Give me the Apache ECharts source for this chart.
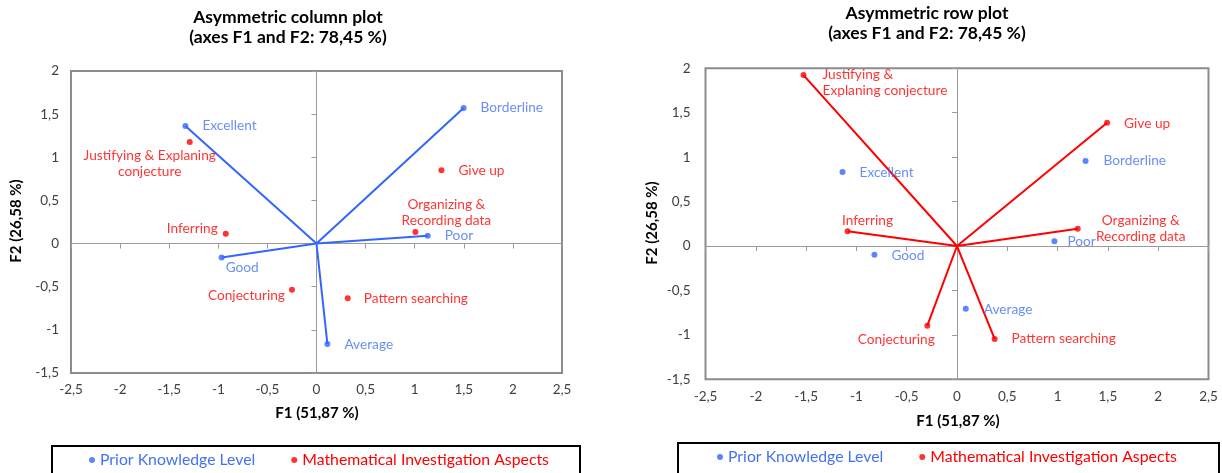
<!DOCTYPE html>
<html><head><meta charset="utf-8">
<script src="https://cdn.jsdelivr.net/npm/echarts@6/dist/echarts.min.js"></script>
<style>html,body{margin:0;padding:0;background:#fff}#c{width:1222px;height:473px}</style>
</head><body><div id="c"></div>
<script>
// ---------- data ----------
const knowledgeNames = ['Excellent', 'Good', 'Average', 'Poor', 'Borderline'];
const aspectNames = ['Justifying & Explaning conjecture', 'Inferring', 'Conjecturing', 'Pattern searching', 'Organizing & Recording data', 'Give up'];

// Asymmetric column plot (F1, F2)
const colKnowledgeF1 = [-1.335, -0.966, 0.111, 1.133, 1.498];
const colKnowledgeF2 = [1.363, -0.161, -1.163, 0.090, 1.572];
const colAspectF1 = [-1.291, -0.924, -0.250, 0.318, 1.007, 1.272];
const colAspectF2 = [1.178, 0.113, -0.535, -0.635, 0.133, 0.851];

// Asymmetric row plot (F1, F2)
const rowKnowledgeF1 = [-1.138, -0.821, 0.087, 0.968, 1.278];
const rowKnowledgeF2 = [0.832, -0.098, -0.705, 0.053, 0.956];
const rowAspectF1 = [-1.526, -1.088, -0.295, 0.374, 1.200, 1.492];
const rowAspectF2 = [1.924, 0.165, -0.897, -1.046, 0.195, 1.387];

const f1Range = [-2.5, 2.5];
const f2Range = [-1.5, 2];
const tickStep = 0.5;

const chartTitles = ['Asymmetric column plot\n(axes F1 and F2: 78,45 %)', 'Asymmetric row plot\n(axes F1 and F2: 78,45 %)'];
const f1Name = 'F1 (51,87 %)';
const f2Name = 'F2 (26,58 %)';
const knowledgeSeriesName = 'Prior Knowledge Level';
const aspectSeriesName = 'Mathematical Investigation Aspects';

// label texts (line breaks as in the figure)
const colLabelText = {
  'Justifying & Explaning conjecture': 'Justifying & Explaning\nconjecture',
  'Organizing & Recording data': 'Organizing &\nRecording data'
};
const rowLabelText = {
  'Justifying & Explaning conjecture': 'Justifying &\nExplaning conjecture',
  'Organizing & Recording data': 'Organizing &\nRecording data'
};

// ---------- styles ----------
const BLUE = '#3366ff', BLUE_TXT = '#4372f4', RED = '#ff0000';
const FONT = 'Lato, "Noto Sans", sans-serif';
// label placement: align, offset from point centre
const colLabelPos = {
  'Excellent': ['left', 17, 0], 'Good': ['left', 4, 10], 'Average': ['left', 17, 1],
  'Poor': ['left', 17, 0], 'Borderline': ['left', 17, 0],
  'Justifying & Explaning conjecture': ['center', -40, 22], 'Inferring': ['right', -8, -5],
  'Conjecturing': ['right', -7, 6], 'Pattern searching': ['left', 16, 0],
  'Organizing & Recording data': ['center', 31, -20], 'Give up': ['left', 17, 0]
};
const rowLabelPos = {
  'Excellent': ['left', 17, 1], 'Good': ['left', 17, 1], 'Average': ['left', 18, 1],
  'Poor': ['left', 13, 0], 'Borderline': ['left', 18, 0],
  'Justifying & Explaning conjecture': ['left', 19, 8], 'Inferring': ['center', 20, -11],
  'Conjecturing': ['center', -31, 14], 'Pattern searching': ['left', 17, 0],
  'Organizing & Recording data': ['center', 63, 0], 'Give up': ['left', 17, 1]
};
const grids = [
  { left: 71, top: 71, width: 491, height: 302 },
  { left: 705.5, top: 68.3, width: 503, height: 311 }
];

function fmt(v) { return String(v).replace('.', ','); }

function points(names, f1, f2, posMap, textMap) {
  return names.map((n, i) => {
    const p = posMap[n];
    return {
      name: n, value: [f1[i], f2[i]],
      label: { align: p[0], verticalAlign: 'middle', offset: [p[1], p[2]],
               formatter: () => (textMap[n] || n) }
    };
  });
}
function spokes(f1, f2) {
  const d = [];
  f1.forEach((x, i) => { d.push([0, 0]); d.push([x, f2[i]]); });
  return d;
}

const xAxes = [], yAxes = [];
grids.forEach((g, gi) => {
  xAxes.push({
    gridIndex: gi, type: 'value', position: 'bottom', min: f1Range[0], max: f1Range[1], interval: tickStep,
    axisLine: { show: false, onZero: false }, axisTick: { show: false }, splitLine: { show: false },
    axisLabel: { formatter: fmt, margin: 10, fontSize: 13.5, fontFamily: FONT, color: '#404040' }
  });
  xAxes.push({
    gridIndex: gi, type: 'value', position: 'top', min: f1Range[0], max: f1Range[1], interval: tickStep,
    axisLine: { show: true, onZero: true, lineStyle: { color: '#9a9a9a', width: 1 } },
    axisTick: { show: true, inside: true, length: 5, lineStyle: { color: '#9a9a9a' } },
    axisLabel: { show: false }, splitLine: { show: false }
  });
  yAxes.push({
    gridIndex: gi, type: 'value', position: 'left', min: f2Range[0], max: f2Range[1], interval: tickStep,
    axisLine: { show: false, onZero: false }, axisTick: { show: false }, splitLine: { show: false },
    axisLabel: { formatter: fmt, margin: gi === 0 ? 12 : 15, fontSize: 13.5, fontFamily: FONT, color: '#404040' }
  });
  yAxes.push({
    gridIndex: gi, type: 'value', position: 'right', min: f2Range[0], max: f2Range[1], interval: tickStep,
    axisLine: { show: true, onZero: true, lineStyle: { color: '#9a9a9a', width: 1 } },
    axisTick: { show: true, inside: true, length: 5, lineStyle: { color: '#9a9a9a' } },
    axisLabel: { show: false }, splitLine: { show: false }
  });
});

function scatter(name, data, gi, color, txtColor) {
  return {
    name, type: 'scatter', xAxisIndex: gi * 2, yAxisIndex: gi * 2, data,
    symbol: 'circle', symbolSize: 6, itemStyle: { color }, z: 5,
    label: { show: true, position: 'inside', color: txtColor, fontSize: 13.7, fontFamily: FONT, lineHeight: 16 },
    emphasis: { disabled: true }
  };
}
function vectorLine(name, data, gi, color) {
  return {
    name, type: 'line', xAxisIndex: gi * 2, yAxisIndex: gi * 2, data, symbol: 'none',
    lineStyle: { color, width: 2 }, z: 4, silent: true, animation: false
  };
}

const series = [
  vectorLine('colVectors', spokes(colKnowledgeF1, colKnowledgeF2), 0, BLUE),
  scatter(knowledgeSeriesName, points(knowledgeNames, colKnowledgeF1, colKnowledgeF2, colLabelPos, colLabelText), 0, BLUE, BLUE_TXT),
  scatter(aspectSeriesName, points(aspectNames, colAspectF1, colAspectF2, colLabelPos, colLabelText), 0, RED, RED),
  vectorLine('rowVectors', spokes(rowAspectF1, rowAspectF2), 1, RED),
  scatter(knowledgeSeriesName, points(knowledgeNames, rowKnowledgeF1, rowKnowledgeF2, rowLabelPos, rowLabelText), 1, BLUE, BLUE_TXT),
  scatter(aspectSeriesName, points(aspectNames, rowAspectF1, rowAspectF2, rowLabelPos, rowLabelText), 1, RED, RED)
];

function legend(left, top, gap) {
  return {
    left, top, padding: 0, orient: 'horizontal', itemWidth: 6, itemHeight: 6, itemGap: gap, selectedMode: false,
    data: [{ name: knowledgeSeriesName, icon: 'circle', itemStyle: { color: BLUE }, textStyle: { color: BLUE_TXT } },
           { name: aspectSeriesName, icon: 'circle', itemStyle: { color: RED }, textStyle: { color: RED } }],
    textStyle: { fontSize: 15.8, fontFamily: FONT, lineHeight: 18 }
  };
}

const titleStyle = { font: 'bold 17.5px ' + FONT, fill: '#000', align: 'center', verticalAlign: 'middle', lineHeight: 20 };
const nameStyle = { font: 'bold 15px ' + FONT, fill: '#000', align: 'center', verticalAlign: 'middle' };
const graphic = [
  { type: 'text', x: 288, y: 27, style: Object.assign({ text: chartTitles[0] }, titleStyle) },
  { type: 'text', x: 927, y: 23.5, style: Object.assign({ text: chartTitles[1] }, titleStyle) },
  { type: 'text', x: 317, y: 413, style: Object.assign({ text: f1Name }, nameStyle) },
  { type: 'text', x: 958, y: 421, style: Object.assign({ text: f1Name }, nameStyle) },
  { type: 'text', x: 16, y: 221, rotation: Math.PI / 2, style: Object.assign({ text: f2Name }, nameStyle) },
  { type: 'text', x: 652, y: 223, rotation: Math.PI / 2, style: Object.assign({ text: f2Name }, nameStyle) },
  { type: 'rect', shape: { x: 52, y: 446, width: 528, height: 40 }, style: { fill: 'none', stroke: '#000', lineWidth: 2 } },
  { type: 'rect', shape: { x: 678, y: 443, width: 541, height: 40 }, style: { fill: 'none', stroke: '#000', lineWidth: 2 } }
];

const chart = echarts.init(document.getElementById('c'), null, { renderer: 'canvas' });
chart.setOption({
  animation: false,
  backgroundColor: '#fff',
  grid: grids.map(g => Object.assign({ show: true, borderColor: '#8c8c8c', borderWidth: 2, backgroundColor: 'transparent', containLabel: false, outerBoundsMode: 'none' }, g)),
  xAxis: xAxes, yAxis: yAxes,
  legend: [legend(89, 451, 36), legend(717, 448, 36)],
  series, graphic
});
</script></body></html>
